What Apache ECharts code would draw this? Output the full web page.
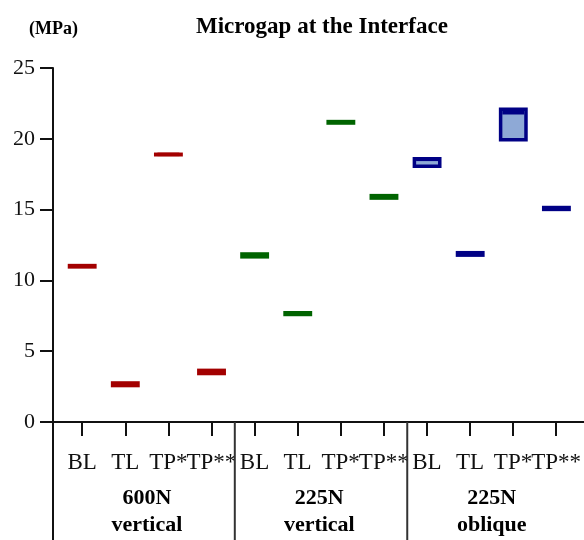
<!DOCTYPE html>
<html><head><meta charset="utf-8">
<script src="https://cdn.jsdelivr.net/npm/echarts@6/dist/echarts.min.js"></script>
<style>html,body{margin:0;padding:0;background:#fff}#c{width:584px;height:540px}</style>
</head><body><div id="c"></div>
<script>
// ---- data ----
const categories = ['BL','TL','TP*','TP**','BL','TL','TP*','TP**','BL','TL','TP*','TP**'];
const groupLabels = ['600N\nvertical','225N\nvertical','225N\noblique'];
const groupCenters = [1.5, 5.5, 9.5];
const groupSeparators = [3.54, 7.54];
const yTicks = [0, 5, 10, 15, 20, 25];

// 600N vertical (red): box low / high / median (MPa)
const red600Low    = [10.83, 2.45, 18.75, 3.30];
const red600High   = [11.17, 2.88, 19.03, 3.77];
const red600Median = [11.00, 2.67, 18.90, 3.53];
// 225N vertical (green)
const green225vLow    = [11.54, 7.47, 20.99, 15.69];
const green225vHigh   = [11.99, 7.84, 21.34, 16.11];
const green225vMedian = [11.77, 7.66, 21.17, 15.90];
// 225N oblique (blue)
const blue225oLow    = [17.93, 11.66, 19.81, 14.89];
const blue225oHigh   = [18.71, 12.08, 22.21, 15.27];
const blue225oMedian = [18.55, 11.87, 21.84, 15.08];

const FONT = '"Liberation Serif","Times New Roman",serif';
const W = 584;
const gridLeft = 53, gridTop = 68, gridBottom = 118;
const xMin = -0.677, xMax = 11.64;
const bandPx = (W - gridLeft) / (xMax - xMin);
const catLeft = gridLeft + (-0.5 - xMin) * bandPx;
const catRight = W - (gridLeft + (categories.length - 0.5 - xMin) * bandPx);

function boxSeries(name, offset, low, high, med, stroke, fill) {
  return {
    type: 'custom', name: name, xAxisIndex: 0, yAxisIndex: 0,
    data: low.map((l, i) => [offset + i, l, high[i], med[i]]),
    encode: { x: 0, y: [1, 2] },
    renderItem: function (params, api) {
      const x = api.value(0);
      const pLow = api.coord([x, api.value(1)]);
      const pHigh = api.coord([x, api.value(2)]);
      const pMed = api.coord([x, api.value(3)]);
      const bw = api.size([1, 0])[0] * 0.67;
      const lw = 3.5;
      const left = pLow[0] - bw / 2;
      const top = pHigh[1], bottom = pLow[1];
      return { type: 'group', children: [
        { type: 'rect', shape: { x: left + lw / 2, y: top + lw / 2, width: bw - lw, height: Math.max(bottom - top - lw, 0) },
          style: { fill: fill, stroke: stroke, lineWidth: lw } },
        { type: 'line', shape: { x1: left + lw, y1: pMed[1], x2: left + bw - lw, y2: pMed[1] },
          style: { stroke: stroke, lineWidth: lw } }
      ]};
    }
  };
}

const yCommon = { type: 'value', min: yTicks[0], max: yTicks[yTicks.length - 1], interval: 5 };

const chart = echarts.init(document.getElementById('c'), null, { renderer: 'canvas' });
chart.setOption({
  animation: false,
  backgroundColor: '#fff',
  title: [
    { text: 'Microgap at the Interface', left: 191, top: 11,
      textStyle: { fontFamily: FONT, fontWeight: 'bold', fontSize: 23, color: '#000' } },
    { text: '(MPa)', left: 24, top: 15,
      textStyle: { fontFamily: FONT, fontWeight: 'bold', fontSize: 18, color: '#000' } }
  ],
  grid: [
    { left: gridLeft, right: 0, top: gridTop, bottom: gridBottom, containLabel: false },
    { left: catLeft, right: catRight, top: gridTop, bottom: gridBottom, containLabel: false }
  ],
  xAxis: [
    {
      gridIndex: 0, type: 'value', min: xMin, max: xMax,
      axisLine: { show: true, onZero: false, lineStyle: { color: '#111', width: 2 } },
      axisTick: { show: false }, axisLabel: { show: false }, splitLine: { show: false }
    },
    {
      gridIndex: 1, type: 'category', data: categories, boundaryGap: true,
      axisLine: { show: false, onZero: false },
      axisTick: { show: true, alignWithLabel: true, length: 14, lineStyle: { color: '#111', width: 2 } },
      axisLabel: { show: true, interval: 0, margin: 29, fontFamily: FONT, fontSize: 23, color: '#111' },
      splitLine: { show: false }
    }
  ],
  yAxis: [
    Object.assign({}, yCommon, {
      gridIndex: 0,
      axisLine: { show: true, onZero: false, lineStyle: { color: '#111', width: 2 } },
      axisTick: { show: true, length: 13, lineStyle: { color: '#111', width: 2 } },
      axisLabel: { margin: 18, fontFamily: FONT, fontSize: 22, color: '#111' },
      splitLine: { show: false }
    }),
    Object.assign({}, yCommon, { gridIndex: 1, show: false })
  ],
  series: [
    boxSeries('600N vertical', 0, red600Low, red600High, red600Median, '#a30000', '#c04040'),
    boxSeries('225N vertical', 4, green225vLow, green225vHigh, green225vMedian, '#006400', '#3a8a3a'),
    boxSeries('225N oblique', 8, blue225oLow, blue225oHigh, blue225oMedian, '#000085', '#8ea9d6'),
    {
      type: 'custom', name: 'separators', silent: true, clip: false, xAxisIndex: 0, yAxisIndex: 0,
      data: [xMin].concat(groupSeparators).map(v => [v]),
      encode: { x: 0 },
      renderItem: function (params, api) {
        const p = api.coord([api.value(0), 0]);
        return { type: 'line', shape: { x1: p[0], y1: p[1], x2: p[0], y2: api.getHeight() },
          style: { stroke: params.dataIndex === 0 ? '#111' : '#333', lineWidth: 2 } };
      }
    },
    {
      type: 'custom', name: 'groups', silent: true, clip: false, xAxisIndex: 0, yAxisIndex: 0,
      data: groupCenters.map((v, i) => [v, i]),
      encode: { x: 0 },
      renderItem: function (params, api) {
        const p = api.coord([api.value(0), 0]);
        return { type: 'text', x: p[0], y: p[1] + 90,
          style: { text: groupLabels[api.value(1)], fontFamily: FONT, fontWeight: 'bold', fontSize: 22,
            lineHeight: 27, align: 'center', verticalAlign: 'middle', fill: '#000' } };
      }
    }
  ]
});
</script>
</body></html>
